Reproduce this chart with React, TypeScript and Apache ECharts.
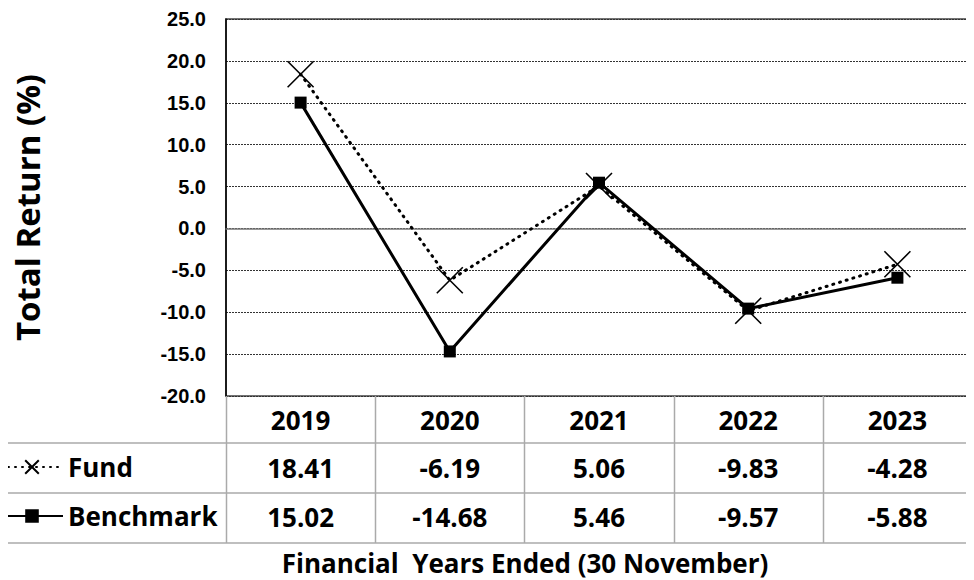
import { useEffect, useRef } from "react";
import * as echarts from "echarts";

const years = ["2019", "2020", "2021", "2022", "2023"];
const fund = [18.41, -6.19, 5.06, -9.83, -4.28];
const benchmark = [15.02, -14.68, 5.46, -9.57, -5.88];
const yMin = -20;
const yMax = 25;
const yStep = 5;
const yTitle = "Total Return (%)";
const xTitle = "Financial  Years Ended (30 November)";
const seriesNames = ["Fund", "Benchmark"];

const FONT = "'Open Sans', Lato, sans-serif";

export default function App() {
  const ref = useRef<HTMLDivElement>(null);
  useEffect(() => {
    if (!ref.current) return;
    const chart = echarts.init(ref.current, undefined, { renderer: "svg" });
    const rowLabel = {
      fontFamily: FONT,
      fontWeight: "bold" as const,
      fontSize: 26,
      color: "#000",
      lineHeight: 28,
      margin: 10,
    };
    const option: any = {
      animation: false,
      backgroundColor: "#fff",
      grid: {
        left: 226,
        right: 2,
        top: 19,
        bottom: 184,
        show: true,
        borderColor: "#444",
        borderWidth: 1.5,
      },
      legend: {
        orient: "vertical",
        left: 0,
        top: 448,
        padding: [5, 5, 5, 0],
        itemWidth: 62,
        itemHeight: 17,
        itemGap: 21,
        selectedMode: false,
        data: seriesNames,
        textStyle: {
          fontFamily: FONT,
          fontWeight: "bold",
          fontSize: 26,
          color: "#000",
          lineHeight: 28,
        },
      },
      xAxis: [
        {
          type: "category",
          data: years,
          boundaryGap: true,
          axisLine: { show: true, lineStyle: { color: "#777", width: 1.5 } },
          axisTick: { show: false },
          axisLabel: { ...rowLabel, interval: 0 },
          splitLine: { show: false },
        },
        {
          type: "category",
          gridIndex: 0,
          position: "bottom",
          offset: 48,
          data: fund.map((v) => v.toFixed(2)),
          axisLine: { show: false },
          axisTick: { show: false },
          axisLabel: { ...rowLabel, interval: 0 },
          splitLine: { show: false },
        },
        {
          type: "category",
          gridIndex: 0,
          position: "bottom",
          offset: 97,
          data: benchmark.map((v) => v.toFixed(2)),
          axisLine: { show: false },
          axisTick: { show: false },
          axisLabel: { ...rowLabel, interval: 0 },
          splitLine: { show: false },
        },
      ],
      yAxis: {
        type: "value",
        min: yMin,
        max: yMax,
        interval: yStep,
        name: yTitle,
        nameLocation: "middle",
        nameGap: 182,
        nameTextStyle: {
          fontFamily: FONT,
          fontWeight: "bold",
          fontSize: 33,
          color: "#000",
        },
        axisLine: { show: true, lineStyle: { color: "#000", width: 1.5 } },
        axisTick: { show: false },
        axisLabel: {
          formatter: (v: number) => v.toFixed(1),
          fontFamily: "'Liberation Sans', Arial, sans-serif",
          fontWeight: "bold",
          fontSize: 20,
          color: "#000",
          margin: 20,
        },
        splitLine: {
          show: true,
          lineStyle: { color: "#333", width: 1, type: [2, 1] },
        },
      },
      series: [
        {
          name: seriesNames[0],
          type: "line",
          data: fund,
          xAxisIndex: 0,
          symbol: "path://M0,0L10,10M10,0L0,10",
          symbolSize: 26,
          itemStyle: { color: "#000", borderColor: "#000", borderWidth: 1.6 },
          lineStyle: { color: "#000", width: 3, type: [1, 6], cap: "round" },
          z: 3,
        },
        {
          name: seriesNames[1],
          type: "line",
          data: benchmark,
          xAxisIndex: 0,
          symbol: "rect",
          symbolSize: 12,
          itemStyle: { color: "#000" },
          lineStyle: { color: "#000", width: 3, type: "solid" },
          z: 4,
        },
      ],
      graphic: [
        {
          type: "text",
          x: 525,
          y: 563,
          style: {
            text: xTitle,
            fill: "#000",
            font: `bold 26px ${FONT}`,
            align: "center",
            verticalAlign: "middle",
            textAlign: "center",
            textVerticalAlign: "middle",
          },
        },
      ],
    };
    chart.setOption(option);

    // table lines from the axis scales
    const x0 = chart.convertToPixel({ xAxisIndex: 0 }, 0) as number;
    const x1 = chart.convertToPixel({ xAxisIndex: 0 }, 1) as number;
    const bw = x1 - x0;
    const yBottom = chart.convertToPixel({ yAxisIndex: 0 }, yMin) as number;
    const rowH = [47, 50, 50];
    const ys: number[] = [];
    let acc = yBottom;
    rowH.forEach((h) => {
      acc += h;
      ys.push(acc);
    });
    const lineStyle = { stroke: "#aaa", lineWidth: 1.5 };
    const graphics: any[] = [...option.graphic];
    years.forEach((_, i) => {
      const bx = Math.round(x0 - bw / 2 + i * bw) + 0.5;
      graphics.push({
        type: "line",
        shape: { x1: bx, y1: yBottom, x2: bx, y2: ys[ys.length - 1] },
        style: lineStyle,
        z: 1,
      });
    });
    ys.forEach((y) => {
      graphics.push({
        type: "line",
        shape: { x1: 0, y1: y, x2: 974, y2: y },
        style: lineStyle,
        z: 1,
      });
    });
    chart.setOption({ graphic: graphics });

    return () => chart.dispose();
  }, []);
  return <div ref={ref} style={{ width: 974, height: 580, marginLeft: -8, marginTop: -8 }} />;
}
